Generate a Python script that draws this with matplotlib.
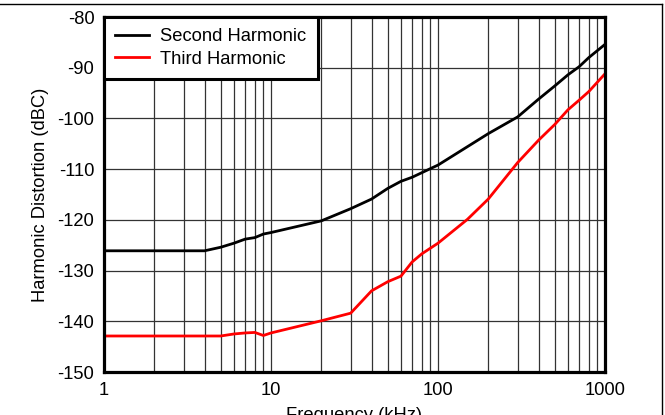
import matplotlib
matplotlib.use("Agg")
import matplotlib.pyplot as plt
from matplotlib.lines import Line2D

plt.rcParams['font.family'] = ['Liberation Sans', 'DejaVu Sans']
plt.rcParams['axes.unicode_minus'] = False

freq_2nd = [1, 2, 3, 4, 5, 6, 7, 8, 9, 10, 20, 30, 40, 50, 60, 70, 80, 90, 100,
            200, 300, 400, 500, 600, 700, 800, 1000]
hd2 = [-126.1, -126.1, -126.1, -126.1, -125.4, -124.6, -123.8, -123.5, -122.8, -122.5,
       -120.2, -117.8, -115.9, -113.8, -112.4, -111.6, -110.7, -109.9, -109.2,
       -103.0, -99.7, -96.2, -93.6, -91.4, -89.8, -88.0, -85.4]

freq_3rd = [1, 2, 3, 4, 5, 6, 7, 8, 9, 10, 20, 30, 40, 50, 60, 70, 80, 100,
            150, 200, 300, 400, 500, 600, 700, 800, 1000]
hd3 = [-142.9, -142.9, -142.9, -142.9, -142.9, -142.5, -142.3, -142.2, -142.8, -142.3,
       -139.9, -138.4, -134.0, -132.2, -131.1, -128.3, -126.7, -124.6,
       -119.9, -115.9, -108.7, -104.3, -101.2, -98.3, -96.4, -94.7, -91.2]

xticks = [1, 10, 100, 1000]
xticklabels = ['1', '10', '100', '1000']
yticks = [-150, -140, -130, -120, -110, -100, -90, -80]

fig = plt.figure(figsize=(6.65, 4.15), dpi=100)
ax = fig.add_axes([104/665, 1 - 372/415, (605-104)/665, (372-17)/415])

ax.plot(freq_2nd, hd2, color='black', lw=2.0, label='Second Harmonic', zorder=3)
ax.plot(freq_3rd, hd3, color='red', lw=2.0, label='Third Harmonic', zorder=3)

ax.set_xscale('log')
ax.set_xlim(1, 1000)
ax.set_ylim(-150, -80)
ax.set_xticks(xticks)
ax.set_xticklabels(xticklabels)
ax.set_yticks(yticks)
ax.minorticks_on()
ax.yaxis.set_minor_locator(matplotlib.ticker.NullLocator())
ax.tick_params(which='both', length=0, labelsize=13.2, pad=7)
ax.grid(True, which='both', axis='x', color='#333333', lw=0.9)
ax.grid(True, which='major', axis='y', color='#333333', lw=0.9)
for s in ax.spines.values():
    s.set_linewidth(2.3)
    s.set_zorder(4)

ax.set_xlabel('Frequency (kHz)', fontsize=13.2, labelpad=6)
ax.set_ylabel('Harmonic Distortion (dBC)', fontsize=13.2, labelpad=6)

leg = ax.legend(loc='upper left', bbox_to_anchor=(0, 1), borderaxespad=0,
                fontsize=13.2, fancybox=False, framealpha=1, edgecolor='black',
                handlelength=1.85, handletextpad=0.6, labelspacing=0.28,
                borderpad=0.62)
leg.get_frame().set_linewidth(2.2)
leg.set_zorder(5)

fig.add_artist(Line2D([0, 662/665], [1 - 4/415, 1 - 4/415], color='black', lw=1.0,
                      transform=fig.transFigure))
fig.add_artist(Line2D([662/665, 662/665], [0, 1 - 4/415], color='black', lw=1.0,
                      transform=fig.transFigure))

fig.savefig('out.png', dpi=100)
